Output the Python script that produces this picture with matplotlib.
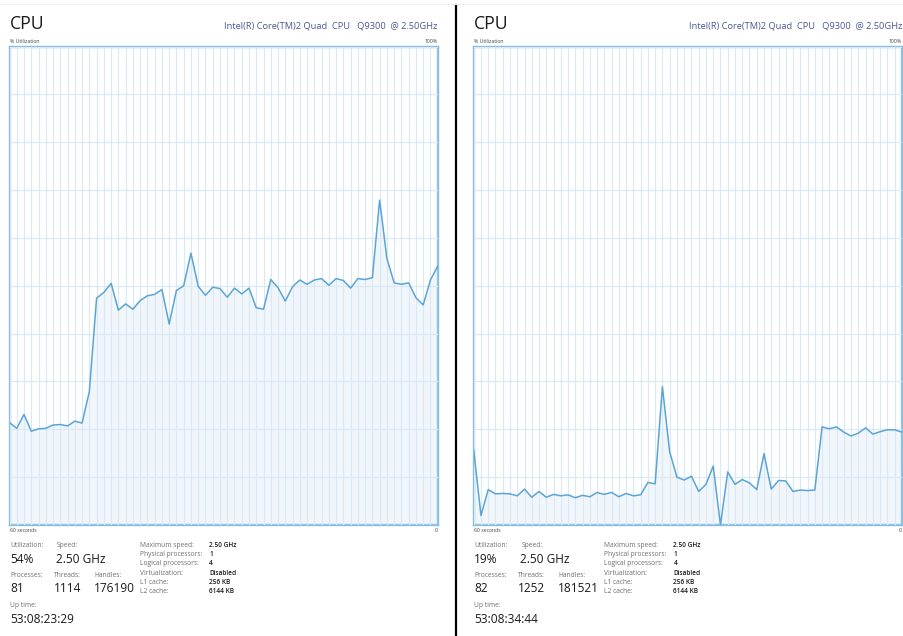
import numpy as np
import matplotlib
matplotlib.use("Agg")
import matplotlib.pyplot as plt

W, H = 904, 636

cpu_name = "Intel(R) Core(TM)2 Quad  CPU   Q9300  @ 2.50GHz"

left_util = [21.4, 20.2, 23.1, 19.6, 20.1, 20.2, 20.9, 21.0, 20.7, 21.7,
             21.3, 27.9, 47.4, 48.6, 50.5, 44.9, 46.2, 45.1, 46.9, 47.9,
             48.2, 49.2, 42.0, 49.0, 50.0, 56.8, 49.9, 48.0, 49.7, 49.4,
             47.6, 49.5, 48.3, 49.5, 45.4, 45.1, 51.3, 49.6, 46.8, 49.8,
             51.2, 50.3, 51.2, 51.5, 50.1, 51.5, 51.1, 49.5, 51.5, 51.3,
             51.7, 67.9, 55.7, 50.6, 50.3, 50.6, 47.5, 46.0, 51.2, 54.1]

right_util = [15.7, 2.0, 7.4, 6.5, 6.6, 6.5, 6.1, 7.5, 5.8, 7.0,
              5.8, 6.4, 6.1, 6.3, 5.7, 6.2, 5.9, 6.8, 6.4, 6.8,
              5.9, 6.6, 6.1, 6.3, 8.9, 8.6, 28.9, 15.3, 10.0, 9.4,
              10.2, 7.0, 8.5, 12.3, 0.0, 11.1, 8.5, 9.5, 8.8, 7.4,
              14.9, 7.5, 9.3, 9.2, 7.0, 7.3, 7.2, 7.3, 20.5, 20.1,
              20.5, 19.4, 18.6, 19.2, 20.3, 19.0, 19.5, 19.9, 19.9, 19.4]

stat_labels = ["Utilization:", "Speed:", "Processes:", "Threads:", "Handles:", "Up time:"]
left_stats = ["54%", "2.50 GHz", "81", "1114", "176190", "53:08:23:29"]
right_stats = ["19%", "2.50 GHz", "82", "1252", "181521", "53:08:34:44"]

info_labels = ["Maximum speed:", "Physical processors:", "Logical processors:",
               "Virtualization:", "L1 cache:", "L2 cache:"]
info_values = ["2.50 GHz", "1", "4", "Disabled", "256 KB", "6144 KB"]

FONT = "Open Sans"
LINE_C = "#5aa5d6"
FILL_C = "#f1f6fa"
GRID_C = "#dae9f4"
BORDER_C = "#86bfe0"
LABEL_C = "#6e6e6e"
DARK_C = "#1a1a1a"
NAME_C = "#4a5896"

fig = plt.figure(figsize=(W / 100, H / 100), dpi=100)
fig.patch.set_facecolor("white")


def fx(px):
    return px / W


def fy(py):
    return 1 - py / H


def txt(x, y, s, size, color=DARK_C, ha="left", weight="normal"):
    fig.text(fx(x), fy(y), s, fontsize=size, color=color, ha=ha, va="baseline",
             family=FONT, fontweight=weight)


def panel(off, values, stats):
    left = 9.5 + off
    right = 437.7 + off
    top, bottom = 46.5, 525.0
    ax = fig.add_axes([fx(left), fy(bottom), fx(right - left), (bottom - top) / H])
    x = np.arange(len(values))
    ax.fill_between(x, values, 0, color=FILL_C, zorder=1, lw=0)
    ax.plot(x, values, color=LINE_C, lw=1.1, zorder=3)
    ax.set_xlim(0, len(values) - 1)
    ax.set_ylim(0, 100)
    ax.set_xticks(x)
    ax.set_yticks(np.arange(0, 101, 10))
    ax.grid(True, color=GRID_C, lw=0.9, zorder=2)
    ax.set_axisbelow(False)
    ax.tick_params(length=0, labelbottom=False, labelleft=False)
    for sp in ax.spines.values():
        sp.set_color(BORDER_C)
        sp.set_linewidth(1.7)
    ax.set_facecolor("white")

    txt(left + 0.5, 29.3, "CPU", 12.7)
    txt(right, 28.3, cpu_name, 6.7, color=NAME_C, ha="right")
    txt(left + 0.5, 42.7, "% Utilization", 3.7, color="#444444")
    txt(right, 42.7, "100%", 3.7, color="#444444", ha="right")
    txt(left + 0.5, 532.3, "60 seconds", 3.7, color="#444444")
    txt(right, 532.3, "0", 3.7, color="#444444", ha="right")

    lx = [10, 57, 10, 54, 94, 10]
    ly = [546.7, 546.7, 577.0, 577.0, 577.0, 607.3]
    vy = [562.7, 562.7, 592.3, 592.3, 592.3, 623.3]
    for i in range(6):
        txt(lx[i] + off, ly[i], stat_labels[i], 4.8, color=LABEL_C)
        txt(lx[i] + off - (1 if i == 1 else 0), vy[i], stats[i], 8.6)

    for i in range(6):
        y = 546.7 + 9.33 * i
        txt(140 + off, y, info_labels[i], 4.8, color=LABEL_C)
        txt(209.3 + off, y, info_values[i], 4.7, weight="semibold")


panel(0, left_util, left_stats)
panel(464.2, right_util, right_stats)

# divider
fig.add_artist(plt.Line2D([fx(456), fx(456)], [fy(5), fy(636)], color="black", lw=1.6))
fig.add_artist(plt.Line2D([0, 1], [fy(4), fy(4)], color="#f0f0f0", lw=0.8))

fig.savefig("out.png", dpi=100, facecolor="white")
